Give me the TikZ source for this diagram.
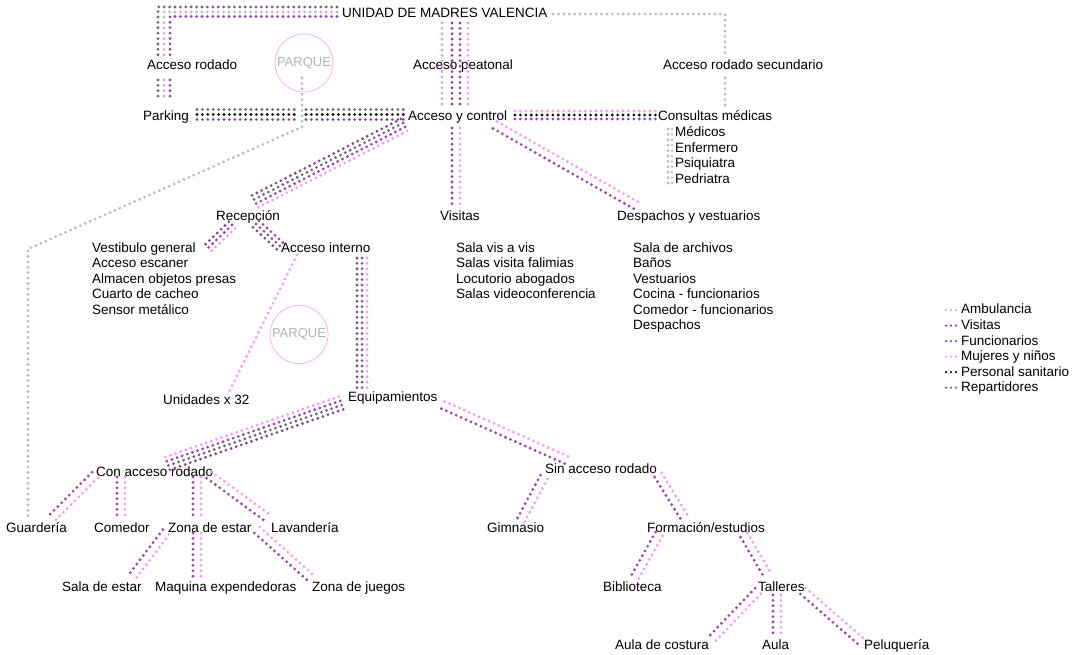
\documentclass[tikz,border=0pt]{standalone}
\usepackage{fontspec}
\setmainfont{Liberation Sans}
\usetikzlibrary{calc}
\definecolor{amb}{HTML}{C2B8C8}
\definecolor{ambb}{HTML}{D2CAD8}
\definecolor{vis}{HTML}{7F4A88}
\definecolor{fun}{HTML}{9745A8}
\definecolor{muj}{HTML}{F39CF6}
\definecolor{lav}{HTML}{D7A2F2}
\definecolor{san}{HTML}{111111}
\definecolor{rep}{HTML}{6F6A72}
\definecolor{parkpink}{HTML}{F6A8F6}
\definecolor{parkgrey}{HTML}{B5B5B5}
\tikzset{
  dl/.style={line width=3.1pt, line cap=round, dash pattern=on 0pt off 5.4pt},
  dls/.style={line width=2.5pt, line cap=round, dash pattern=on 0pt off 5pt},
  lbl/.style={anchor=base west, inner sep=0pt, font=\fontsize{13.5}{15}\selectfont, text=black},
  park/.style={circle, draw=parkpink, line width=0.7pt, minimum size=58pt, inner sep=0pt,
    text=parkgrey, font=\fontsize{13}{15}\selectfont}
}
\newcommand{\bund}[3]{%
  \foreach \o/\c in {#3}{%
    \draw[dl,color=\c] ($(#1)!\o pt!90:(#2)$) -- ($(#2)!\o pt!-90:(#1)$);}}
\begin{document}
\begin{tikzpicture}[x=1pt,y=-1pt]
\fill[white] (0,0) rectangle (1080,655);
\useasboundingbox (0,0) rectangle (1080,655);

% ---------------- nodes ----------------
\node[lbl] (unidad) at (342,18) {UNIDAD DE MADRES VALENCIA};
\node[lbl] (accrod) at (147,69.5) {Acceso rodado};
\node[park] (parque1) at (304,63) {PARQUE};
\node[lbl] (accpeat) at (413,69.5) {Acceso peatonal};
\node[lbl] (accsec) at (663,69.5) {Acceso rodado secundario};
\node[lbl] (parking) at (143,121) {Parking};
\node[lbl] (control) at (408,121) {Acceso y control};
\node[lbl] (consultas) at (658,121) {Consultas médicas};
\node[lbl] (medicos) at (675,137) {Médicos};
\node[lbl] (enfermero) at (675,152.5) {Enfermero};
\node[lbl] (psiq) at (675,168) {Psiquiatra};
\node[lbl] (pedr) at (675,183.5) {Pedriatra};
\node[lbl] (recep) at (216,221) {Recepción};
\node[lbl] (visitas) at (440,221) {Visitas};
\node[lbl] (despachos) at (617,221) {Despachos y vestuarios};
\node[lbl] (v1) at (92,252.5) {Vestibulo general};
\node[lbl] (v2) at (92,268) {Acceso escaner};
\node[lbl] (v3) at (92,283.5) {Almacen objetos presas};
\node[lbl] (v4) at (92,299) {Cuarto de cacheo};
\node[lbl] (v5) at (92,314.5) {Sensor metálico};
\node[lbl] (accint) at (281,252.5) {Acceso interno};
\node[lbl] (s1n) at (456,252.5) {Sala vis a vis};
\node[lbl] (s2n) at (456,268) {Salas visita falimias};
\node[lbl] (s3n) at (456,283.5) {Locutorio abogados};
\node[lbl] (s4n) at (456,299) {Salas videoconferencia};
\node[lbl] (d1) at (633,252.5) {Sala de archivos};
\node[lbl] (d2) at (633,268) {Baños};
\node[lbl] (d3) at (633,283.5) {Vestuarios};
\node[lbl] (d4) at (633,299) {Cocina - funcionarios};
\node[lbl] (d5) at (633,314.5) {Comedor - funcionarios};
\node[lbl] (d6) at (633,330) {Despachos};
\node[park] (parque2) at (299,334.5) {PARQUE};
\node[lbl] (unidades) at (163,404) {Unidades x 32};
\node[lbl] (equip) at (348,401) {Equipamientos};
\node[lbl] (con) at (96,476) {Con acceso rodado};
\node[lbl] (sin) at (545,473) {Sin acceso rodado};
\node[lbl, anchor=base east] (guard) at (67,532) {Guardería};
\node[lbl] (comedor) at (94,532) {Comedor};
\node[lbl] (zona) at (168,532) {Zona de estar};
\node[lbl] (lavand) at (271,532) {Lavandería};
\node[lbl] (gimn) at (487,532) {Gimnasio};
\node[lbl] (formac) at (647,532) {Formación/estudios};
\node[lbl] (salaest) at (62,591) {Sala de estar};
\node[lbl] (maquina) at (155,591) {Maquina expendedoras};
\node[lbl] (juegos) at (312,591) {Zona de juegos};
\node[lbl] (biblio) at (603,591) {Biblioteca};
\node[lbl] (talleres) at (758,591) {Talleres};
\node[lbl] (costura) at (615,649) {Aula de costura};
\node[lbl] (aula) at (762,649) {Aula};
\node[lbl] (pelu) at (864,649) {Peluquería};

% ---------------- legend ----------------
\foreach \yy/\c/\t/\n in {314/amb/Ambulancia/la, 329.5/vis/Visitas/lb, 345/fun/Funcionarios/lc,
   360.5/muj/Mujeres y niños/ld, 376/san/Personal sanitario/le, 391.5/rep/Repartidores/lf}{
  \draw[dls,color=\c] (946,\yy-3.8) -- (956.5,\yy-3.8);
  \node[lbl] (\n) at (961,\yy) {\t};
}

% ---------------- connectors ----------------
% UNIDAD -> Acceso rodado -> Parking
\coordinate (r1) at (337,12);
\coordinate (r2) at (164,12);
\coordinate (r3) at (164,55);
\coordinate (r4) at (164,80);
\coordinate (r5) at (164,101);
\draw[dl,color=rep] ($(r1)+(0,-5)$) -- ($(r2)+(-6,-5)$) -- ($(r3)+(-6,0)$);
\draw[dl,color=rep] ($(r4)+(-6,0)$) -- ($(r5)+(-6,0)$);
\draw[dl,color=amb] (r1) -- (r2) -- (r3);
\draw[dl,color=amb] (r4) -- (r5);
\draw[dl,color=fun] ($(r1)+(0,4.5)$) -- ($(r2)+(6,4.5)$) -- ($(r3)+(6,0)$);
\draw[dl,color=fun] ($(r4)+(6,0)$) -- ($(r5)+(6,0)$);

% UNIDAD -> Acceso rodado secundario -> Consultas
\coordinate (q1) at (553,14);
\coordinate (q2) at (725,14);
\coordinate (q3) at (725,53);
\coordinate (q4) at (725,78);
\coordinate (q5) at (725,107);
\draw[dl,color=amb] (q1) -- (q2) -- (q3);
\draw[dl,color=amb] (q4) -- (q5);

% Parque -> Guarderia (ambulancia)
\coordinate (p1) at (302,78);
\coordinate (p2) at (302,127);
\coordinate (p3) at (28,249);
\coordinate (p4) at (28,518);
\draw[dl,color=amb] (p1) -- (p2) -- (p3) -- (p4);

% Acceso peatonal
\coordinate (b3a) at (455,23); \coordinate (b3b) at (455,107);
\bund{b3a}{b3b}{-13/lav,-3/vis,5/fun,13/muj}

% Parking -> Acceso y control
\coordinate (b2a) at (197,114.5); \coordinate (b2b) at (299,114.5);
\coordinate (b2c) at (306,114.5); \coordinate (b2d) at (404,114.5);
\bund{b2a}{b2b}{5/rep,0/san,-5/fun}
\bund{b2c}{b2d}{5/rep,0/san,-5/fun}

% Acceso y control -> Consultas
\coordinate (b5a) at (515,115); \coordinate (b5b) at (656,115);
\bund{b5a}{b5b}{4/muj,0/san,-4/fun}

% Consultas list
\coordinate (b6a) at (670,129); \coordinate (b6b) at (670,185);
\bund{b6a}{b6b}{-2/amb,2/ambb}

% Acceso y control -> Recepcion / Visitas / Despachos
\coordinate (b8a) at (404,125); \coordinate (b8b) at (254,202);
\bund{b8a}{b8b}{-6.75/vis,-2.25/rep,2.25/fun,6.75/muj}
\coordinate (b9a) at (456,128); \coordinate (b9b) at (456,207);
\bund{b9a}{b9b}{-4/vis,4/muj}
\coordinate (b10a) at (495,125); \coordinate (b10b) at (637,206);
\bund{b10a}{b10b}{-4/fun,4/muj}

% Recepcion -> Vestibulo / Acceso interno
\coordinate (b11a) at (232,225); \coordinate (b11b) at (205,251);
\bund{b11a}{b11b}{-4.5/vis,0/fun,4.5/muj}
\coordinate (b12a) at (256,224); \coordinate (b12b) at (281,247);
\bund{b12a}{b12b}{-4.5/vis,0/rep,4.5/fun}

% Acceso interno -> Unidades / Equipamientos
\coordinate (b13a) at (297,255); \coordinate (b13b) at (228,394);
\draw[dl,color=muj] (b13a) -- (b13b);
\coordinate (b14a) at (362,258); \coordinate (b14b) at (362,388);
\bund{b14a}{b14b}{-5/vis,0/rep,5/muj}

% Equipamientos -> Con / Sin acceso rodado
\coordinate (b15a) at (341,403); \coordinate (b15b) at (163,465);
\bund{b15a}{b15b}{-6.75/muj,-2.25/fun,2.25/rep,6.75/vis}
\coordinate (b16a) at (443,405); \coordinate (b16b) at (571,462);
\bund{b16a}{b16b}{-4/fun,4/muj}

% lower branches
\coordinate (b17a) at (95,475);  \coordinate (b17b) at (50,520);
\coordinate (b18a) at (121,477); \coordinate (b18b) at (121,519);
\coordinate (b19a) at (197,477); \coordinate (b19b) at (197,519);
\coordinate (b20a) at (209,475); \coordinate (b20b) at (269,519);
\coordinate (b21a) at (166,532); \coordinate (b21b) at (132,577);
\coordinate (b22a) at (197,533); \coordinate (b22b) at (197,578);
\coordinate (b23a) at (257,530); \coordinate (b23b) at (313,580);
\coordinate (b24a) at (544,477); \coordinate (b24b) at (521,520);
\coordinate (b25a) at (658,475); \coordinate (b25b) at (684,517);
\coordinate (b26a) at (659,534); \coordinate (b26b) at (635,577);
\coordinate (b27a) at (744,535); \coordinate (b27b) at (768,576);
\coordinate (b28a) at (758,591); \coordinate (b28b) at (710,641);
\coordinate (b29a) at (777,595); \coordinate (b29b) at (777,636);
\coordinate (b30a) at (803,591); \coordinate (b30b) at (864,644);
\foreach \k in {17,18,19,20,21,22,23,24,25,26,27,28,29,30}{
  \bund{b\k a}{b\k b}{-4/fun,4/muj}
}
\end{tikzpicture}
\end{document}
